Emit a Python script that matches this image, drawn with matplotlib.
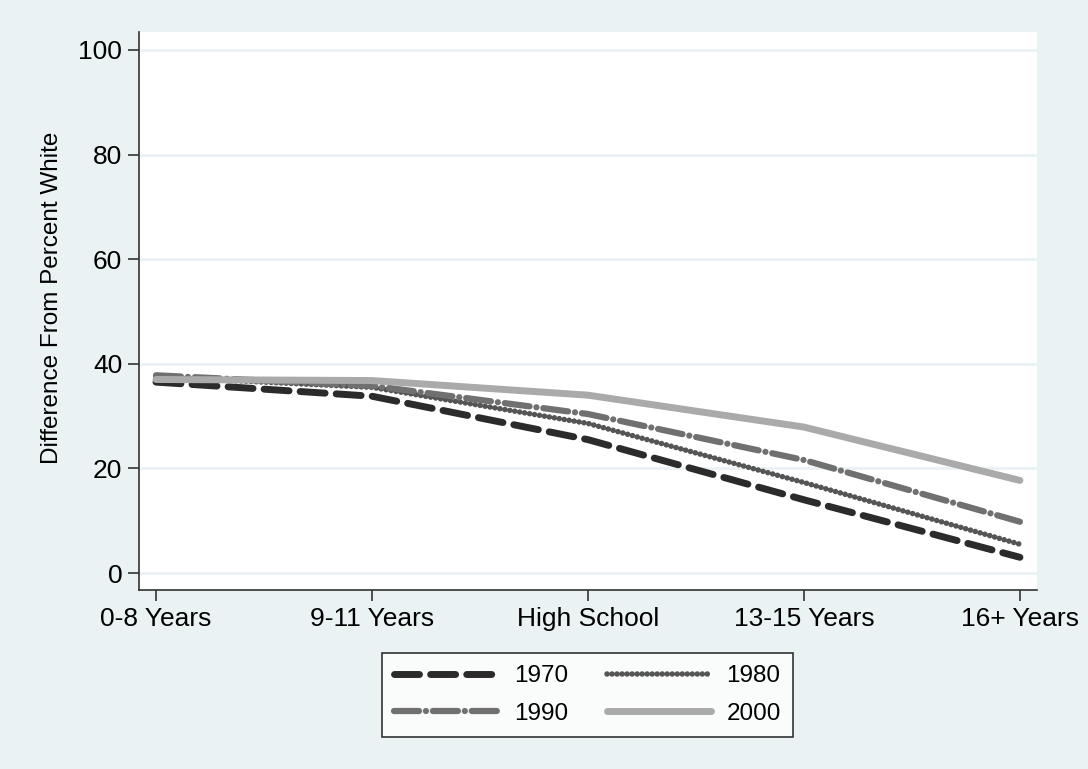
import numpy as np
import matplotlib.pyplot as plt

plt.rcParams['font.family'] = ['Liberation Sans', 'DejaVu Sans']
plt.rcParams['lines.scale_dashes'] = False

# categorias de escolaridade
categorias = ["0-8 Years", "9-11 Years", "High School", "13-15 Years", "16+ Years"]
anos = ["1970", "1980", "1990", "2000"]

# diferenca em relacao ao percentual branco
v1970 = [36.5, 33.8, 25.5, 14.0, 3.0]
v1980 = [37.5, 35.5, 28.6, 17.3, 5.5]
v1990 = [37.8, 35.8, 30.4, 21.6, 9.8]
v2000 = [37.0, 36.8, 34.0, 27.9, 17.7]

fundo = "#eaf2f3"
x = np.arange(len(categorias))

fig = plt.figure(figsize=(10.88, 7.69), dpi=100, facecolor=fundo)
ax = fig.add_axes([139/1088, 1 - 590/769, (1037-139)/1088, (590-32)/769])
ax.set_facecolor("white")

l1, = ax.plot(x, v1970, color="#2b2b2b", lw=5, solid_capstyle="round",
              dash_capstyle="round", dashes=(18, 8), label=anos[0])
l2, = ax.plot(x, v1980, color="#555555", lw=4, dash_capstyle="round",
              dashes=(0.01, 3.6), label=anos[1])
l3, = ax.plot(x, v1990, color="#707070", lw=4.5, dash_capstyle="round",
              dashes=(18, 5, 0.01, 5), label=anos[2])
l4, = ax.plot(x, v2000, color="#aaaaaa", lw=5, solid_capstyle="round", label=anos[3])

ax.set_xlim(-0.0787, 4.079)
ax.set_ylim(-3.25, 103.44)
ax.set_yticks([0, 20, 40, 60, 80, 100])
ax.set_xticks(x)
ax.set_xticklabels(categorias)
ax.yaxis.grid(True, color=fundo, lw=2)
ax.set_axisbelow(True)
ax.tick_params(labelsize=19, length=8, width=1.2, color="#333333", pad=4)
for s in ["top", "right"]:
    ax.spines[s].set_visible(False)
for s in ["left", "bottom"]:
    ax.spines[s].set_color("#333333")
    ax.spines[s].set_linewidth(1.2)
ax.set_ylabel("Difference From Percent White", fontsize=17.5)
ax.yaxis.set_label_coords(-0.085, 0.523)

leg = fig.legend([l1, l3, l2, l4], [anos[0], anos[2], anos[1], anos[3]], ncol=2,
                 loc="center", bbox_to_anchor=(587.5/1088, 1 - 695/769),
                 fontsize=17.5, frameon=True, fancybox=False, edgecolor="black",
                 handlelength=4.3, columnspacing=1.6, labelspacing=0.62,
                 borderpad=0.5, handletextpad=0.62)
leg.get_frame().set_linewidth(1.2)

plt.savefig("out.png", dpi=100, facecolor=fundo)
